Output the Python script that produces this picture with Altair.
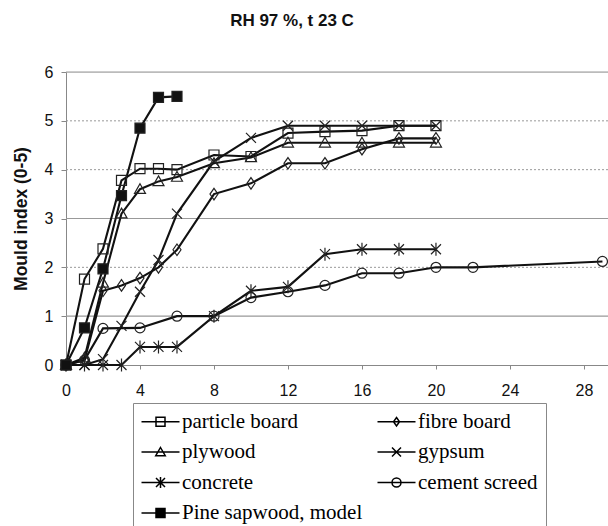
import altair as alt
import pandas as pd

# ---- data ----
series_names = ["particle board", "fibre board", "plywood", "gypsum",
                "concrete", "cement screed", "Pine sapwood, model"]
# legend is laid out column-major by Vega; this order shows rows as in the reference
legend_order = ["particle board", "plywood", "concrete", "Pine sapwood, model",
                "fibre board", "gypsum", "cement screed"]

t_std = [0, 1, 2, 3, 4, 5, 6, 8, 10, 12, 14, 16, 18, 20]
particle_board = [0, 1.76, 2.38, 3.78, 4.02, 4.02, 4.0, 4.3, 4.27, 4.75, 4.78, 4.8, 4.9, 4.9]
fibre_board = [0, 0.1, 1.52, 1.63, 1.78, 2.0, 2.36, 3.5, 3.72, 4.13, 4.13, 4.42, 4.64, 4.64]
plywood = [0, 0.15, 1.68, 3.1, 3.6, 3.76, 3.85, 4.13, 4.25, 4.55, 4.55, 4.55, 4.55, 4.55]
gypsum = [0, 0, 0.12, 0.8, 1.5, 2.15, 3.1, 4.17, 4.65, 4.9, 4.9, 4.9, 4.9, 4.9]
concrete = [0, 0, 0, 0, 0.37, 0.37, 0.37, 1.0, 1.52, 1.6, 2.27, 2.37, 2.37, 2.37]

t_cement = [0, 1, 2, 4, 6, 8, 10, 12, 14, 16, 18, 20, 22, 29]
cement_screed = [0, 0.1, 0.75, 0.76, 1.0, 1.0, 1.38, 1.5, 1.63, 1.88, 1.88, 2.0, 2.0, 2.12]

t_pine = [0, 1, 2, 3, 4, 5, 6]
pine_sapwood = [0, 0.76, 1.97, 3.47, 4.85, 5.48, 5.5]

x_ticks = [0, 4, 8, 12, 16, 20, 24, 28]
y_ticks = [0, 1, 2, 3, 4, 5, 6]
grid_solid = [1, 3, 6]
grid_dotted = [2, 4, 5]

# ---- build table ----
rows = []
for name, xs, ys in [
    ("particle board", t_std, particle_board),
    ("fibre board", t_std, fibre_board),
    ("plywood", t_std, plywood),
    ("gypsum", t_std, gypsum),
    ("concrete", t_std, concrete),
    ("cement screed", t_cement, cement_screed),
    ("Pine sapwood, model", t_pine, pine_sapwood),
]:
    for xv, yv in zip(xs, ys):
        rows.append({"series": name, "t": xv, "m": yv})
df = pd.DataFrame(rows)

# marker shapes (plot)
plot_shape_map = {
    "particle board": "M-1,-1L1,-1L1,1L-1,1Z",
    "fibre board": "M0,-1.15L0.8,0L0,1.15L-0.8,0Z",
    "plywood": "M0,-1.1L1.1,0.85L-1.1,0.85Z",
    "gypsum": "M-1,-1L1,1M-1,1L1,-1",
    "concrete": "M-1,-1L1,1M-1,1L1,-1M0,-1.3L0,1.3",
    "cement screed": "circle",
    "Pine sapwood, model": "M-1,-1L1,-1L1,1L-1,1Z",
}
# legend shapes: line through marker (stroke only)
ln = "M-3.8,0L3.8,0"
hatch = "".join(f"M-0.9,{v:.1f}L0.9,{v:.1f}" for v in [-0.7, -0.5, -0.3, -0.1, 0.1, 0.3, 0.5, 0.7])
legend_shape_map = {
    "particle board": ln + "M-0.9,-0.9L0.9,-0.9L0.9,0.9L-0.9,0.9Z",
    "fibre board": ln + "M0,-0.85L0.6,0L0,0.85L-0.6,0Z",
    "plywood": ln + "M0,-0.9L0.95,0.75L-0.95,0.75Z",
    "gypsum": ln + "M-0.9,-0.9L0.9,0.9M-0.9,0.9L0.9,-0.9",
    "concrete": ln + "M-0.9,-0.9L0.9,0.9M-0.9,0.9L0.9,-0.9M0,-1.1L0,1.1",
    "cement screed": ln + "M0.9,0A0.9,0.9,0,1,1,-0.9,0A0.9,0.9,0,1,1,0.9,0Z",
    "Pine sapwood, model": ln + "M-0.9,-0.9L0.9,-0.9L0.9,0.9L-0.9,0.9Z" + hatch,
}

FONT = "Liberation Sans"

x_enc = alt.X("t:Q", scale=alt.Scale(domain=[0, 29.3], nice=False, zero=False),
              axis=alt.Axis(values=x_ticks, title=None, grid=False, domainColor="#888",
                            tickColor="#888", tickSize=4, labelFont=FONT, labelFontSize=16,
                            labelColor="#111", labelPadding=13, labelFlush=False))
y_enc = alt.Y("m:Q", scale=alt.Scale(domain=[0, 6], nice=False),
              axis=alt.Axis(values=y_ticks, title="Mould index (0-5)", grid=False,
                            domainColor="#888", tickColor="#888", tickSize=5,
                            labelFont=FONT, labelFontSize=16, labelColor="#111",
                            labelPadding=8, titleFont=FONT, titleFontSize=17.5,
                            titleFontWeight="bold", titleColor="#111", titlePadding=14))

grid_s = alt.Chart(pd.DataFrame({"g": grid_solid})).mark_rule(
    color="#999", strokeWidth=1.2).encode(y=alt.Y("g:Q", scale=alt.Scale(domain=[0, 6])))
grid_d = alt.Chart(pd.DataFrame({"g": grid_dotted})).mark_rule(
    color="#999", strokeWidth=1, strokeDash=[2, 2]).encode(y=alt.Y("g:Q", scale=alt.Scale(domain=[0, 6])))

base = alt.Chart(df)
lines = base.mark_line(color="#111", strokeWidth=2.1).encode(
    x=x_enc, y=y_enc, detail="series:N", order="t:Q")
points = base.mark_point(filled=True, size=100, stroke="#222", strokeWidth=1.2, opacity=1).encode(
    x="t:Q", y="m:Q",
    shape=alt.Shape("series:N", scale=alt.Scale(domain=series_names,
                                                range=[plot_shape_map[s] for s in series_names]),
                    legend=None),
    fill=alt.condition(alt.datum.series == "Pine sapwood, model", alt.value("#111"), alt.value("transparent")),
)
legend_layer = base.transform_filter("false").mark_point(
    filled=False, size=100, color="black", strokeWidth=1.5, opacity=1).encode(
    x="t:Q", y="m:Q",
    shape=alt.Shape("series:N",
                    scale=alt.Scale(domain=legend_order,
                                    range=[legend_shape_map[s] for s in legend_order]),
                    legend=alt.Legend(title=None, orient="none", legendX=67, legendY=331,
                                      columns=2, columnPadding=11,
                                      rowPadding=8.5, padding=8, strokeColor="#888",
                                      symbolSize=100, symbolStrokeWidth=1.5,
                                      symbolStrokeColor="black", symbolOpacity=1,
                                      symbolOffset=9, labelOffset=11,
                                      labelFont="Liberation Serif", labelFontSize=21,
                                      labelColor="black", labelLimit=400)),
)

chart = alt.layer(grid_s, grid_d, lines, points, legend_layer).resolve_scale(
    shape="independent").properties(
    width=542, height=293,
    title=alt.TitleParams("RH 97 %, t 23 C", font=FONT, fontSize=17, fontWeight="bold",
                          anchor="middle", frame="group", dx=-45, offset=34, color="#111"),
    padding={"left": 66, "top": 72, "right": 0, "bottom": 161},
    autosize=alt.AutoSizeParams(type="none"),
).configure_view(stroke=None).configure(background="white")

chart.save("out.html", embed_options={"renderer": "svg", "actions": False})
